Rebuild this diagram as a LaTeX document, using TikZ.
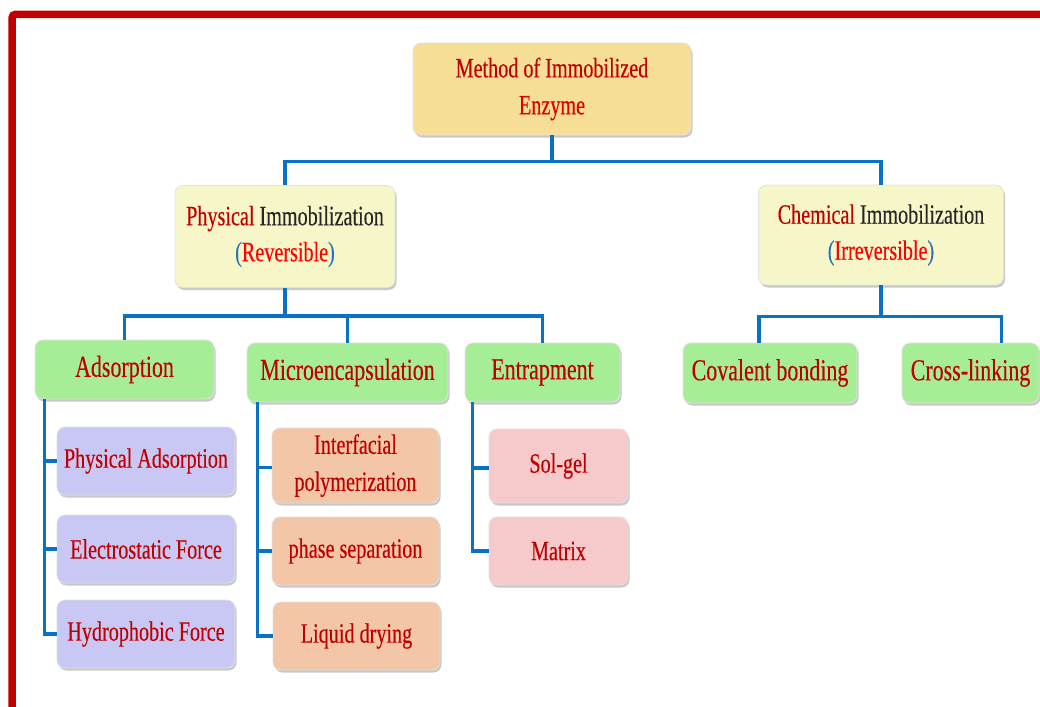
\documentclass[tikz,border=0pt]{standalone}
\usepackage{fontspec}
\setmainfont{Liberation Serif}[FakeStretch=0.72, FakeBold=0.25]
\usetikzlibrary{shadows}

\definecolor{framered}{HTML}{C00000}
\definecolor{darkred}{HTML}{C00000}
\definecolor{brightred}{HTML}{FF0000}
\definecolor{nearblack}{HTML}{262626}
\definecolor{parblue}{HTML}{2E75B6}
\definecolor{linkblue}{HTML}{0A72C4}
\definecolor{boxedge}{HTML}{E2E2E2}
\definecolor{goldfill}{HTML}{F7DE97}
\definecolor{creamfill}{HTML}{F7F6C8}
\definecolor{greenfill}{HTML}{A6EE96}
\definecolor{lilacfill}{HTML}{C9C8F4}
\definecolor{peachfill}{HTML}{F2C6A6}
\definecolor{pinkfill}{HTML}{F6C9CA}

\tikzset{
  box/.style={rounded corners=8pt, draw=boxedge, line width=0.8pt, inner sep=0pt,
    align=center, text=darkred, font=\fontsize{28}{37}\selectfont,
    drop shadow={shadow xshift=1.5pt, shadow yshift=-2.5pt, opacity=0.3, fill=black!70}},
  rootbox/.style={box, fill=goldfill, minimum width=278pt, minimum height=92pt},
  kindbox/.style={box, fill=creamfill, minimum height=102pt},
  methodbox/.style={box, fill=greenfill, minimum height=59pt, font=\fontsize{30.5}{37}\selectfont},
  adsbox/.style={box, fill=lilacfill, minimum width=178pt, minimum height=68pt},
  capbox/.style={box, fill=peachfill, minimum width=167pt, minimum height=68pt},
  trapbox/.style={box, fill=pinkfill, minimum width=139pt, minimum height=68pt},
  link/.style={draw=linkblue, line width=3.2pt}
}

\begin{document}
\begin{tikzpicture}[x=1pt,y=-1pt]
\useasboundingbox (0,0) rectangle (1040,706);
\fill[white] (0,0) rectangle (1040,706);

% outer frame, running off the right and lower edges
\draw[framered, line width=7.5pt, rounded corners=3pt] (12.2,14.5) rectangle (1080,740);

% root and the two kinds of immobilization
\node[rootbox] (root) at (552,89) {Method of Immobilized\\{\color{brightred!88!black}Enzyme}};
\node[kindbox, minimum width=220pt] (phys) at (285,236.5)
  {{\color{darkred}Physical} {\color{nearblack}Immobilization}\\[-1pt]
   {\color{parblue}(}{\color{brightred}Reversible}{\color{parblue})}};
\node[kindbox, minimum width=245pt, minimum height=100pt] (chem) at (881,235)
  {{\color{darkred}Chemical} {\color{nearblack}Immobilization}\\[-1pt]
   {\color{parblue}(}{\color{brightred}Irreversible}{\color{parblue})}};

% methods
\node[methodbox, minimum width=179pt] (ads) at (124.5,369.5) {Adsorption};
\node[methodbox, minimum width=201pt] (micro) at (347.5,372.5) {Microencapsulation};
\node[methodbox, minimum width=155pt] (entr) at (542.5,372.5) {Entrapment};
\node[methodbox, minimum width=174pt, minimum height=60pt] (cov) at (770,373) {Covalent bonding};
\node[methodbox, minimum width=137pt, minimum height=60pt] (cross) at (970.5,373) {Cross-linking};

% adsorption variants
\node[adsbox] (pa) at (146,461) {Physical Adsorption};
\node[adsbox] (ef) at (146,549) {Electrostatic Force};
\node[adsbox] (hf) at (146,634) {Hydrophobic Force};

% microencapsulation variants
\node[capbox, minimum height=75pt] (ip) at (355.5,465.5) {Interfacial\\polymerization};
\node[capbox] (ps) at (355.5,551) {phase separation};
\node[capbox] (ld) at (356.5,636) {Liquid drying};

% entrapment variants
\node[trapbox, minimum height=74pt] (sg) at (558.5,466) {Sol-gel};
\node[trapbox] (mx) at (558.5,551) {Matrix};

% tree connectors
\draw[link] (root.south) -- ++(0,26) -| (phys.north);
\draw[link] (root.south) -- ++(0,26) -| (chem.north);

\draw[link] (phys.south) -- ++(0,28) -| (ads.north);
\draw[link] (phys.south) -- ++(0,28) -| (micro.north);
\draw[link] (phys.south) -- ++(0,28) -| (entr.north);

\draw[link] (chem.south) -- ++(0,31) -| ([xshift=-11pt]cov.north);
\draw[link] (chem.south) -- ++(0,31) -| ([xshift=31pt]cross.north);

\coordinate (adsT) at ([xshift=10pt]ads.south west);
\draw[link] (adsT) |- (pa.west);
\draw[link] (adsT) |- (ef.west);
\draw[link] (adsT) |- (hf.west);

\coordinate (microT) at ([xshift=11pt]micro.south west);
\draw[link] (microT) |- ([yshift=-2pt]ip.west);
\draw[link] (microT) |- (ps.west);
\draw[link] (microT) |- (ld.west);

\coordinate (entrT) at ([xshift=8pt]entr.south west);
\draw[link] (entrT) |- ([yshift=-2pt]sg.west);
\draw[link] (entrT) |- (mx.west);
\end{tikzpicture}
\end{document}
